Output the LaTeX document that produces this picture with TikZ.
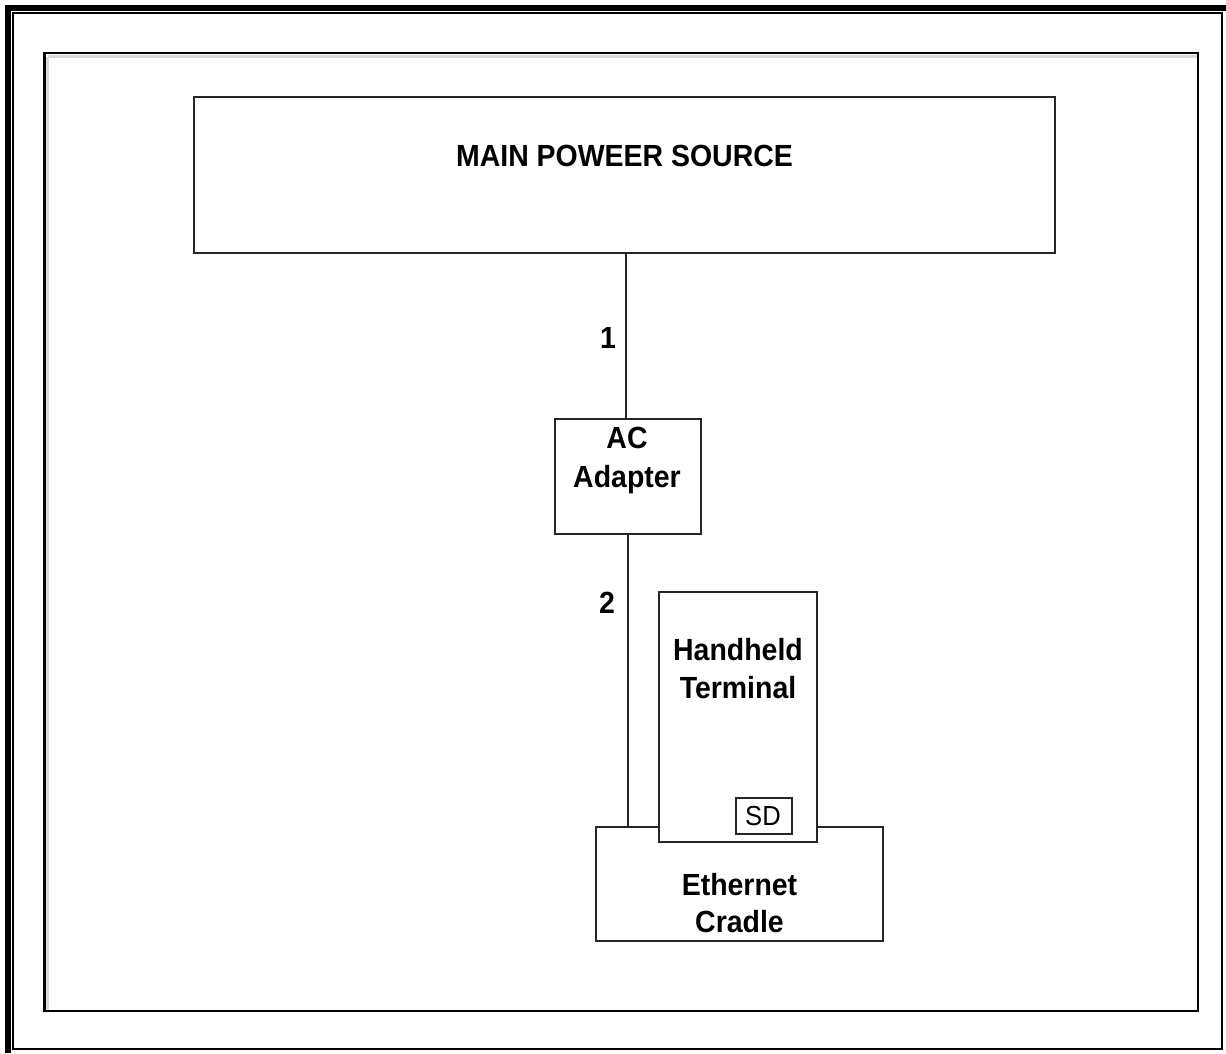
\documentclass[tikz,border=0pt]{standalone}
\usepackage{fontspec}
\setmainfont{Liberation Sans}
\newfontfamily\diagfont[FakeStretch=0.93,BoldFeatures={FakeStretch=0.93}]{Liberation Sans}
\begin{document}
\begin{tikzpicture}[x=1pt,y=-1pt,
  boxline/.style={draw=black!85,line width=2pt,fill=white,inner sep=0pt,outer sep=0pt,anchor=north west},
  conn/.style={draw=black!85,line width=2pt},
  lbl/.style={anchor=base,inner sep=0pt,font=\diagfont\fontsize{30.6}{38}\selectfont\bfseries},
  sdlbl/.style={anchor=base,inner sep=0pt,font=\diagfont\fontsize{27.5}{30}\selectfont}]
\useasboundingbox (0,0) rectangle (1226,1053);
% page border
\fill[black] (5,5) rectangle (11,1053);
\fill[black] (5,5) rectangle (1226,11);
\draw[line width=2pt] (13.3,13.3) rectangle (1221.8,1049);
% inner frame with shadow
\draw[line width=3pt,black!15] (47.5,56.5) -- (1196.5,56.5);
\draw[line width=3pt,black!15] (47.5,56.5) -- (47.5,1009.5);
\draw[line width=2.5pt] (44.5,53) rectangle (1198,1011);
% nodes
\node[boxline,minimum width=861pt,minimum height=156pt] (main) at (194,97) {};
\node[lbl] (mainT) at (624.5,166) {MAIN POWEER SOURCE};
\node[boxline,minimum width=146pt,minimum height=115pt] (ac) at (555,419) {};
\node[lbl] (acT1) at (627,448) {AC};
\node[lbl] (acT2) at (627,487) {Adapter};
\node[boxline,minimum width=287pt,minimum height=114pt] (cradle) at (596,827) {};
\node[lbl] (crT1) at (739.5,895) {Ethernet};
\node[lbl] (crT2) at (739.5,932) {Cradle};
\node[boxline,minimum width=158pt,minimum height=250pt] (hand) at (659,592) {};
\node[lbl] (hT1) at (738,660) {Handheld};
\node[lbl] (hT2) at (738,698) {Terminal};
\node[draw=black!85,line width=2pt,inner sep=0pt,minimum width=56pt,minimum height=36pt,anchor=north west] (sd) at (735,797) {};
\node[sdlbl] (sdT) at (763,825) {SD};
% connectors
\coordinate (mainB) at (626,253);
\coordinate (acT) at (626,419);
\coordinate (acB) at (628,534);
\coordinate (crT) at (628,827);
\draw[conn] (mainB) -- (acT);
\draw[conn] (acB) -- (crT);
\node[lbl] (n1) at (608,348) {1};
\node[lbl] (n2) at (607,613) {2};
\end{tikzpicture}
\end{document}
